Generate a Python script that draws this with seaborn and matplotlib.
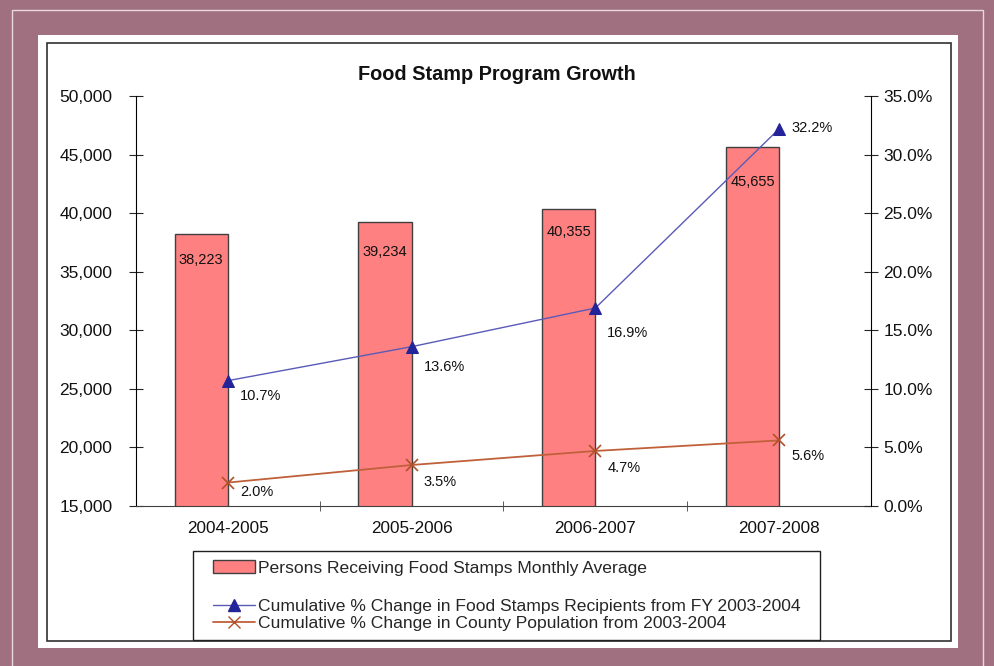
import matplotlib.pyplot as plt
import numpy as np
import pandas as pd
import seaborn as sns
from matplotlib.patches import Rectangle, Patch
from matplotlib.lines import Line2D
from matplotlib.ticker import FuncFormatter, MultipleLocator, FixedLocator

# data
years = ['2004-2005', '2005-2006', '2006-2007', '2007-2008']
persons = [38223, 39234, 40355, 45655]
recip_pct = [10.7, 13.6, 16.9, 32.2]
pop_pct = [2.0, 3.5, 4.7, 5.6]

# label placement (pixels below the point / bar top)
bar_lbl_dy = [26, 30, 23, 35]
recip_lbl_dy = [15, 20, 25, -1]
pop_lbl_dy = [9, 17, 17, 16]

sns.set_style('white')
plt.rcParams['font.family'] = ['Liberation Sans', 'DejaVu Sans']

W, H = 995, 666
fig = plt.figure(figsize=(W / 100, H / 100), dpi=100)
fig.patch.set_facecolor('#a07080')

def px_rect(x0, y0, x1, y1, z=-10, **kw):
    # rectangle in figure pixel coords (y from top)
    r = Rectangle((x0 / W, 1 - y1 / H), (x1 - x0) / W, (y1 - y0) / H,
                  transform=fig.transFigure, zorder=z, **kw)
    fig.patches.append(r)

px_rect(12, 10, 983, 700, facecolor='none', edgecolor='#e8d8dc', lw=1)
px_rect(38, 35, 958, 648, facecolor='white', edgecolor='none')
px_rect(47, 43, 951, 641, facecolor='none', edgecolor='#303030', lw=1.2)
# legend box
px_rect(193, 551, 820, 640, facecolor='white', edgecolor='#202020', lw=1)

ax = fig.add_axes([136 / W, 1 - 506 / H, 735 / W, 410 / H])
ax.set_facecolor('none')

df = pd.DataFrame({'year': years, 'persons': persons})
bw = 0.29
sns.barplot(data=df, x='year', y='persons', ax=ax, width=bw,
            color='#ff8080', saturation=1, edgecolor='#404040', linewidth=1)
for p in ax.patches:
    p.set_x(p.get_x() - bw / 2)

ax.set_xlim(-0.5, 3.5)
ax.set_ylim(15000, 50000)
ax.yaxis.set_major_locator(MultipleLocator(5000))
ax.yaxis.set_major_formatter(FuncFormatter(lambda v, _: f'{v:,.0f}'))
ax.set_xlabel('')
ax.set_ylabel('')
ax.xaxis.set_minor_locator(FixedLocator([0.5, 1.5, 2.5]))
ax.tick_params(axis='x', which='major', length=0, pad=11, labelsize=12.3, labelcolor='#111111')
ax.tick_params(axis='x', which='minor', length=7, direction='inout', color='#404040', bottom=True)
ax.tick_params(axis='y', length=10, direction='inout', pad=12, labelsize=12.5,
               labelcolor='#111111', left=True)
ax.spines['top'].set_visible(False)
ax.spines['right'].set_visible(False)
ax.spines['left'].set_color('black')
ax.spines['bottom'].set_color('#404040')

for i, v in enumerate(persons):
    ax.annotate(f'{v:,}', (i - bw / 2, v), xytext=(0, -bar_lbl_dy[i]),
                textcoords='offset pixels', ha='center', va='center',
                fontsize=10.5, color='#111111')

ax2 = ax.twinx()
ax2.set_facecolor('none')
xs = np.arange(len(years))
sns.lineplot(x=xs, y=recip_pct, ax=ax2, color='#5a5ab8', lw=1,
             marker='^', markersize=9, markerfacecolor='#24249a',
             markeredgecolor='#24249a')
sns.lineplot(x=xs, y=pop_pct, ax=ax2, color='#c0603a', lw=1.3,
             marker='x', markersize=9, markeredgecolor='#b0502a', markeredgewidth=1.2)
ax2.set_ylim(0, 35)
ax2.set_xlim(-0.5, 3.5)
ax2.yaxis.set_major_locator(MultipleLocator(5))
ax2.yaxis.set_major_formatter(FuncFormatter(lambda v, _: f'{v:.1f}%'))
ax2.tick_params(axis='y', length=10, direction='inout', pad=4, labelsize=12.5,
                labelcolor='#111111', right=True)
for s in ['top', 'left', 'bottom']:
    ax2.spines[s].set_visible(False)
ax2.spines['right'].set_color('black')

for i, v in enumerate(recip_pct):
    ax2.annotate(f'{v:.1f}%', (i, v), xytext=(12, -recip_lbl_dy[i]),
                 textcoords='offset pixels', ha='left', va='center',
                 fontsize=10.5, color='#111111')
for i, v in enumerate(pop_pct):
    ax2.annotate(f'{v:.1f}%', (i, v), xytext=(12, -pop_lbl_dy[i]),
                 textcoords='offset pixels', ha='left', va='center',
                 fontsize=10.5, color='#111111')

fig.text(497 / W, 1 - 75 / H, 'Food Stamp Program Growth', ha='center', va='center',
         fontsize=14.3, fontweight='bold', color='#111111')

leg_kw = dict(fontsize=12.6, frameon=False, handlelength=2.4, handletextpad=0.2,
              labelspacing=0.1, borderpad=0, borderaxespad=0, loc='center left')
bar_handle = Patch(facecolor='#ff8080', edgecolor='#404040', lw=1)
line_handles = [
    Line2D([], [], color='#5a5ab8', lw=1, marker='^', markersize=9,
           markerfacecolor='#24249a', markeredgecolor='#24249a'),
    Line2D([], [], color='#c0603a', lw=1.3, marker='x', markersize=9,
           markeredgecolor='#b0502a'),
]
leg1 = fig.legend([bar_handle], ['Persons Receiving Food Stamps Monthly Average'],
                  bbox_to_anchor=(213 / W, 1 - 568 / H), **leg_kw)
leg2 = fig.legend(line_handles,
                  ['Cumulative % Change in Food Stamps Recipients from FY 2003-2004',
                   'Cumulative % Change in County Population from 2003-2004'],
                  bbox_to_anchor=(213 / W, 1 - 614.5 / H), **leg_kw)

fig.savefig('out.png', dpi=100, facecolor=fig.get_facecolor())
